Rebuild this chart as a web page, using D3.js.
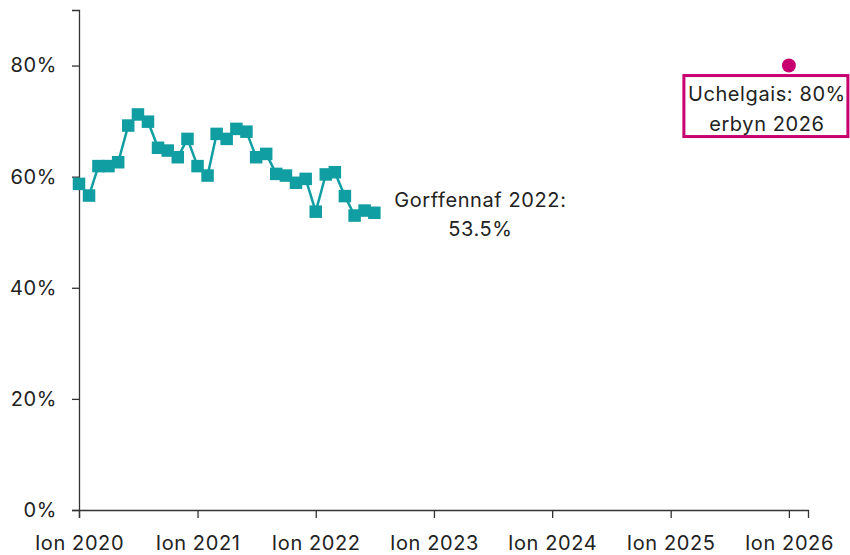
<!DOCTYPE html>
<html>
<head>
<meta charset="utf-8">
<script src="https://cdn.jsdelivr.net/npm/d3@7"></script>
<style>
    body { margin: 0; background: #fff; }
    text { font-family: Inter, "Open Sans", sans-serif; fill: #222; letter-spacing: 0.6px; }
</style>
</head>
<body>
<div id="chart"></div>
<script>
// monthly share, Jan 2020 .. Jul 2022
var months = [
    "2020-01", "2020-02", "2020-03", "2020-04", "2020-05", "2020-06",
    "2020-07", "2020-08", "2020-09", "2020-10", "2020-11", "2020-12",
    "2021-01", "2021-02", "2021-03", "2021-04", "2021-05", "2021-06",
    "2021-07", "2021-08", "2021-09", "2021-10", "2021-11", "2021-12",
    "2022-01", "2022-02", "2022-03", "2022-04", "2022-05", "2022-06",
    "2022-07"
];
var values = [
    58.7, 56.6, 61.9, 61.9, 62.6, 69.2, 71.2, 69.9, 65.2, 64.7, 63.5, 66.8,
    61.9, 60.2, 67.7, 66.8, 68.6, 68.1, 63.5, 64.1, 60.5, 60.2, 58.9, 59.6,
    53.7, 60.4, 60.8, 56.5, 53.0, 53.9, 53.5
];
var target = { month: "2026-01", value: 80 };
var yTicks = [0, 20, 40, 60, 80];
var xTickYears = [2020, 2021, 2022, 2023, 2024, 2025, 2026];
var lastLabel = ["Gorffennaf 2022:", "53.5%"];
var targetLabel = ["Uchelgais: 80%", "erbyn 2026"];

var width = 850, height = 555;
var margin = { top: 10, right: 42, bottom: 45, left: 79 };
var teal = "#119ea3";
var magenta = "#c8006f";
var fontSize = "20px";

var parse = d3.timeParse("%Y-%m");
var data = months.map(function (m, i) {
    return { date: parse(m), value: values[i] };
});

var svg = d3.select("#chart")
    .append("svg")
    .attr("width", width)
    .attr("height", height);

var x = d3.scaleTime()
    .domain([new Date(2020, 0, 1), new Date(2026, 2, 1)])
    .range([margin.left, width - margin.right]);
var y = d3.scaleLinear()
    .domain([0, 90])
    .range([height - margin.bottom, margin.top]);

// axes
var xAxis = svg.append("g")
    .attr("transform", "translate(0," + (height - margin.bottom) + ")")
    .call(d3.axisBottom(x)
        .tickValues(xTickYears.map(function (yr) { return new Date(yr, 0, 1); }))
        .tickFormat(function (d) { return "Ion " + d.getFullYear(); })
        .tickSizeOuter(0)
        .tickSize(8));
xAxis.selectAll("text")
    .attr("dy", 0)
    .attr("y", 40)
    .style("font-size", fontSize);

var yAxis = svg.append("g")
    .attr("transform", "translate(" + margin.left + ",0)")
    .call(d3.axisLeft(y)
        .tickValues(yTicks)
        .tickFormat(function (d) { return d + "%"; })
        .tickSizeOuter(0)
        .tickSize(7));
yAxis.selectAll("text")
    .attr("x", -22)
    .style("font-size", fontSize);

svg.selectAll(".domain, .tick line").attr("stroke", "#333").attr("stroke-width", 1.3);
svg.selectAll(".tick text").style("fill", "#222");

// series line
var line = d3.line()
    .x(function (d) { return x(d.date); })
    .y(function (d) { return y(d.value); });
svg.append("path")
    .datum(data)
    .attr("d", line)
    .attr("fill", "none")
    .attr("stroke", teal)
    .attr("stroke-width", 2.5);

var sq = 12.5;
svg.append("g").selectAll("rect")
    .data(data)
    .enter()
    .append("rect")
    .attr("x", function (d) { return x(d.date) - sq / 2; })
    .attr("y", function (d) { return y(d.value) - sq / 2; })
    .attr("width", sq)
    .attr("height", sq)
    .attr("fill", teal);

// label for last point
var last = data[data.length - 1];
svg.append("text")
    .attr("text-anchor", "middle")
    .style("font-size", fontSize)
    .selectAll("tspan")
    .data(lastLabel)
    .enter()
    .append("tspan")
    .attr("x", x(last.date) + 106)
    .attr("y", function (d, i) { return y(last.value) - 6 + i * 29; })
    .text(function (d) { return d; });

// target point and box
var tx = x(parse(target.month)), ty = y(target.value);
svg.append("circle")
    .attr("cx", tx)
    .attr("cy", ty)
    .attr("r", 7)
    .attr("fill", magenta);

svg.append("rect")
    .attr("x", tx - 105)
    .attr("y", ty + 10)
    .attr("width", 164)
    .attr("height", 61)
    .attr("fill", "#fff")
    .attr("stroke", magenta)
    .attr("stroke-width", 3);

svg.append("text")
    .attr("text-anchor", "middle")
    .style("font-size", fontSize)
    .selectAll("tspan")
    .data(targetLabel)
    .enter()
    .append("tspan")
    .attr("x", tx - 22)
    .attr("y", function (d, i) { return ty + 35 + i * 30; })
    .text(function (d) { return d; });
</script>
</body>
</html>
